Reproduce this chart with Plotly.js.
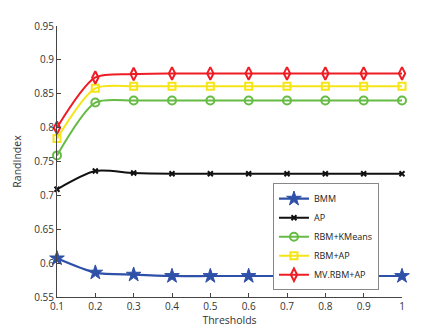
<!DOCTYPE html>
<html><head><meta charset="utf-8">
<script src="https://cdn.plot.ly/plotly-3.0.1.min.js"></script>
<style>html,body{margin:0;padding:0;background:#fff}#chart{width:445px;height:334px}</style>
</head><body><div id="chart"></div>
<script>
const thresholds = [0.1,0.2,0.3,0.4,0.5,0.6,0.7,0.8,0.9,1.0];
const bmm = [0.607,0.586,0.583,0.581,0.581,0.581,0.581,0.581,0.581,0.581];
const ap = [0.709,0.736,0.733,0.732,0.732,0.732,0.732,0.732,0.732,0.732];
const rbmKmeans = [0.759,0.837,0.840,0.840,0.840,0.840,0.840,0.840,0.840,0.840];
const rbmAp = [0.784,0.858,0.861,0.861,0.861,0.861,0.861,0.861,0.861,0.861];
const mvRbmAp = [0.800,0.874,0.879,0.880,0.880,0.880,0.880,0.880,0.880,0.880];
const names = ['BMM','AP','RBM+KMeans','RBM+AP','MV.RBM+AP'];

function tr(y,name,color,symbol,size,lw,mlw){
  return {x:thresholds,y:y,name:name,type:'scatter',mode:'lines+markers',cliponaxis:false,
    line:{color:color,width:lw,shape:'spline',smoothing:0.75},
    marker:{symbol:symbol,size:size,color:color,line:{color:color,width:mlw}}};
}
const data = [
  tr(bmm,names[0],'#2E50A8','star',11,2.2,1),
  tr(ap,names[1],'#111111','x-thin-open',5,2,2),
  tr(rbmKmeans,names[2],'#66BB44','circle-open',8,2,2),
  tr(rbmAp,names[3],'#F5E516','square-open',7,2,2),
  tr(mvRbmAp,names[4],'#EE1C24','diamond-tall-open',9,2,2)
];
const layout = {
  width:445,height:334,
  margin:{l:57,r:43,t:26,b:37},
  paper_bgcolor:'#fff',plot_bgcolor:'#fff',
  font:{family:'"Open Sans", Arial, sans-serif',size:10,color:'#333'},
  showlegend:true,
  legend:{x:0.626,y:0.42,xanchor:'left',yanchor:'top',bgcolor:'#fff',bordercolor:'#888',borderwidth:1,
    font:{size:9,color:'#222'},tracegroupgap:0,itemwidth:30},
  xaxis:{range:[0.1,1.0],tickvals:thresholds,ticktext:['0.1','0.2','0.3','0.4','0.5','0.6','0.7','0.8','0.9','1'],
    showline:true,linecolor:'#444',linewidth:1,ticks:'inside',ticklen:4,tickcolor:'#444',
    showgrid:false,zeroline:false,mirror:false,
    title:{text:'Thresholds',font:{size:10.5,color:'#333'},standoff:4}},
  yaxis:{range:[0.55,0.95],tickvals:[0.55,0.6,0.65,0.7,0.75,0.8,0.85,0.9,0.95],
    ticktext:['0.55','0.6','0.65','0.7','0.75','0.8','0.85','0.9','0.95'],
    showline:true,linecolor:'#444',linewidth:1,ticks:'inside',ticklen:4,tickcolor:'#444',
    showgrid:false,zeroline:false,
    title:{text:'RandIndex',font:{size:10.5,color:'#333'},standoff:10}}
};
Plotly.newPlot('chart',data,layout,{displayModeBar:false,staticPlot:true});
</script></body></html>
